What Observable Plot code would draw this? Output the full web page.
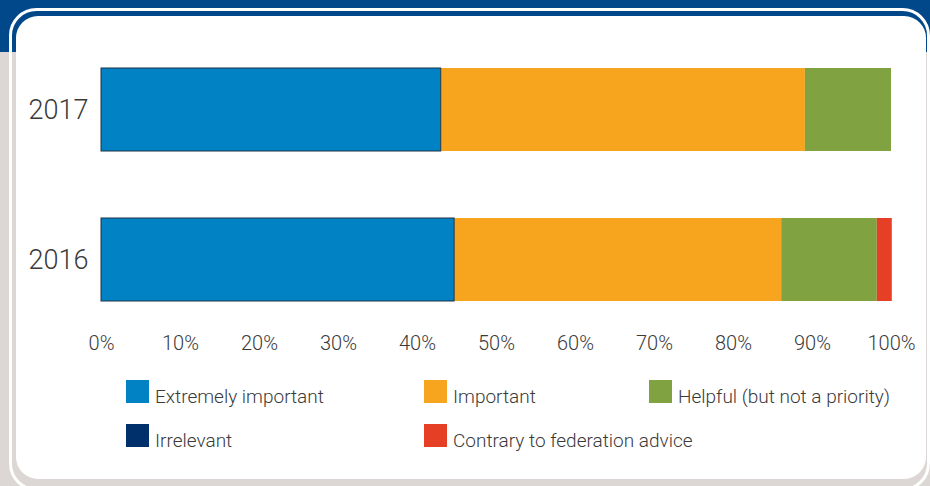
<!DOCTYPE html>
<html><head><meta charset="utf-8">
<script src="https://cdn.jsdelivr.net/npm/d3@7"></script>
<script src="https://cdn.jsdelivr.net/npm/@observablehq/plot@0.6"></script>
<style>
body{margin:0;width:930px;height:486px;overflow:hidden;position:relative;font-family:Roboto,"Liberation Sans",sans-serif;}
#bg,#chart,#legend{position:absolute;left:0;}
#bg{top:0}
#chart{top:0}
#legend{top:360px}
</style>
</head><body>
<svg id="bg" width="930" height="486"></svg>
<div id="chart"></div>
<svg id="legend" width="930" height="110"></svg>
<script>
const years = ["2017", "2016"];
const categories = ["Extremely important", "Important", "Helpful (but not a priority)", "Irrelevant", "Contrary to federation advice"];
const colors = ["#0082c4", "#f7a51f", "#80a240", "#00306b", "#e53f26"];
const values2017 = [43.0, 46.1, 10.9, 0, 0];
const values2016 = [44.7, 41.4, 12.1, 0, 1.9];
const xTicks = [0, 10, 20, 30, 40, 50, 60, 70, 80, 90, 100];

// background frame
const bg = d3.select("#bg");
bg.append("rect").attr("width", 930).attr("height", 486).attr("fill", "#dcd7d4");
bg.append("rect").attr("width", 930).attr("height", 52).attr("fill", "#00488a");
bg.append("rect").attr("x", 10.5).attr("y", 9.5).attr("width", 918).attr("height", 480)
  .attr("rx", 26).attr("fill", "none").attr("stroke", "#fff").attr("stroke-width", 3);
bg.append("rect").attr("x", 16).attr("y", 16).attr("width", 910).attr("height", 463)
  .attr("rx", 22).attr("fill", "#fff");

const rows = [];
years.forEach((y, i) => {
  const vals = i === 0 ? values2017 : values2016;
  categories.forEach((c, j) => rows.push({year: y, category: c, value: vals[j]}));
});
const blueRows = rows.filter(d => d.category === categories[0]);

const chart = Plot.plot({
  width: 930,
  height: 360,
  marginLeft: 101,
  marginRight: 39,
  marginTop: 53,
  marginBottom: 44,
  style: {background: "transparent", fontFamily: "Roboto, 'Liberation Sans', sans-serif", color: "#3a3a3a"},
  x: {domain: [0, 100], ticks: xTicks, tickFormat: d => d + "%", tickSize: 0, tickPadding: 19, label: null},
  y: {domain: years, paddingInner: 0.447, paddingOuter: 0.1, tickSize: 0, tickPadding: 13, label: null},
  color: {domain: categories, range: colors},
  marks: [
    Plot.barX(rows, Plot.stackX({x: "value", y: "year", fill: "category", order: categories})),
    Plot.barX(blueRows, Plot.stackX({x: "value", y: "year", fill: "none", stroke: "#1c3349", strokeWidth: 1}))
  ]
});
document.getElementById("chart").appendChild(chart);
const svg = d3.select(chart);
svg.selectAll('g[aria-label="x-axis tick label"]').attr("font-size", 20).attr("font-weight", 300).attr("fill", "#3a3a3a");
svg.selectAll('g[aria-label="y-axis tick label"]').attr("font-size", 27).attr("font-weight", 300).attr("fill", "#3a3a3a");

// legend
const lg = d3.select("#legend");
const colX = [126, 424, 649];
const rowY = [20, 64];
categories.forEach((c, i) => {
  const x = colX[i % 3], y = rowY[Math.floor(i / 3)];
  lg.append("rect").attr("x", x).attr("y", y).attr("width", 23).attr("height", 23).attr("fill", colors[i]);
  lg.append("text").attr("x", x + 29).attr("y", y + 23).attr("font-size", 19).attr("font-weight", 300)
    .attr("fill", "#3a3a3a").attr("font-family", "Roboto, 'Liberation Sans', sans-serif").text(c);
});
</script>
</body></html>
